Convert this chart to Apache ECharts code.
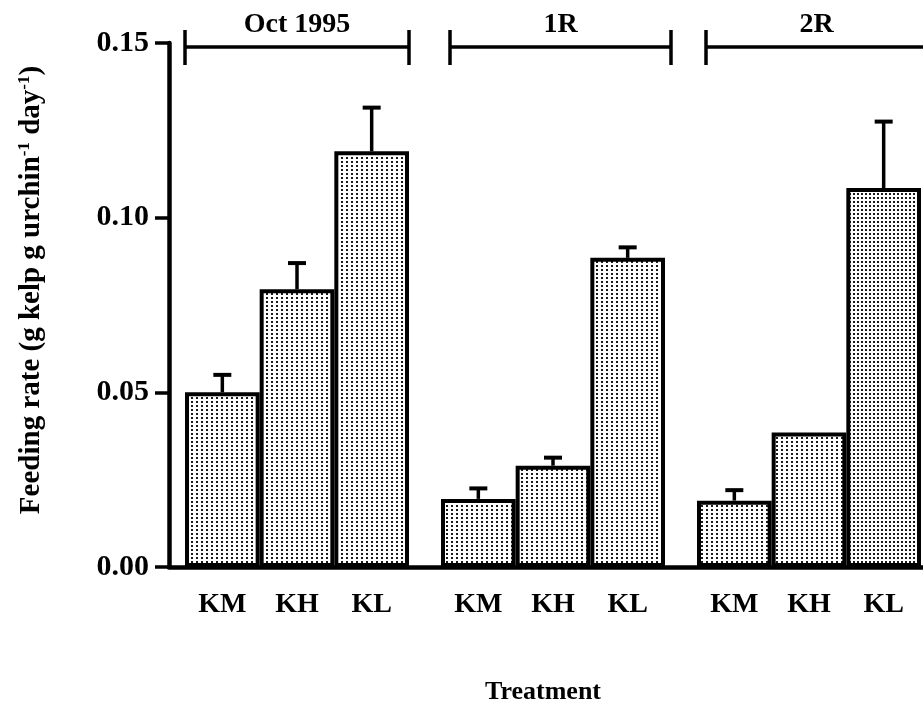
<!DOCTYPE html>
<html>
<head>
<meta charset="utf-8">
<script src="https://cdn.jsdelivr.net/npm/echarts@6/dist/echarts.min.js"></script>
<style>
  html, body { margin: 0; padding: 0; background: #fff; overflow: hidden; }
  #chart { width: 923px; height: 710px; }
</style>
</head>
<body>
<div id="chart"></div>
<script>
// Sampling periods and urchin treatments
const periods = ['Oct 1995', '1R', '2R'];
const treatments = ['KM', 'KH', 'KL'];

// Mean feeding rate per treatment, one value per period
const rateKM = [0.050, 0.0195, 0.019];
const rateKH = [0.0795, 0.029, 0.0385];
const rateKL = [0.119, 0.0885, 0.1085];

// Standard errors (upper whisker only)
const seKM = [0.005, 0.003, 0.003];
const seKH = [0.0075, 0.0023, 0];
const seKL = [0.0125, 0.003, 0.019];

const yTicks = [0, 0.05, 0.10, 0.15];

const rates = [rateKM, rateKH, rateKL];
const errors = [seKM, seKH, seKL];

const FONT = '"Liberation Serif", "Times New Roman", serif';
const GAP = 0.125; // fraction of a period band left empty between groups

// Stippled fill used for the bars
function stipple(px, py, dot) {
  const c = document.createElement('canvas');
  c.width = px; c.height = py;
  const g = c.getContext('2d');
  g.fillStyle = '#ffffff';
  g.fillRect(0, 0, px, py);
  g.fillStyle = '#1a1a1a';
  g.fillRect(1, 1, dot, dot);
  return { image: c, repeat: 'repeat' };
}
const fillLight = stipple(5, 4, 2);
const fillDense = stipple(4, 4, 2);

const chart = echarts.init(document.getElementById('chart'), null, { renderer: 'canvas' });

function barGeom(api, periodIdx, treatIdx, value) {
  const band = api.size([1, 0])[0];
  const bw = band * (1 - GAP) / 3;
  const c = api.coord([periodIdx, value]);
  const x = c[0] + (treatIdx - 1) * bw;
  return { x: x, y: c[1], bw: bw };
}

const barSeries = treatments.map((t, ti) => ({
  name: t,
  type: 'bar',
  barGap: '0%',
  barCategoryGap: (GAP * 100) + '%',
  data: rates[ti].map((v, pi) => ({
    value: v,
    itemStyle: (ti === 2 && pi === 2) ? { color: fillDense } : undefined
  })),
  itemStyle: { color: fillLight, borderColor: '#000', borderWidth: 4 },
  label: {
    show: true,
    position: 'bottom',
    distance: 24,
    formatter: t,
    color: '#000',
    fontFamily: FONT,
    fontWeight: 'bold',
    fontSize: 28
  },
  z: 2
}));

// Whiskers drawn above each bar
const errData = [];
for (let ti = 0; ti < 3; ti++) {
  for (let pi = 0; pi < periods.length; pi++) {
    errData.push([pi, rates[ti][pi], rates[ti][pi] + errors[ti][pi], ti]);
  }
}
const errSeries = {
  type: 'custom',
  data: errData,
  z: 3,
  renderItem: function (params, api) {
    const pi = api.value(0), ti = api.value(3);
    const lo = barGeom(api, pi, ti, api.value(1));
    const hi = barGeom(api, pi, ti, api.value(2));
    if (hi.y >= lo.y - 1) return null;
    const style = { stroke: '#000', lineWidth: 3.5 };
    return {
      type: 'group',
      children: [
        { type: 'line', shape: { x1: lo.x, y1: lo.y, x2: lo.x, y2: hi.y }, style: style },
        { type: 'line', shape: { x1: lo.x - 9, y1: hi.y, x2: lo.x + 9, y2: hi.y }, style: { stroke: '#000', lineWidth: 4 } }
      ]
    };
  }
};

// Period brackets along the top
const bracketSeries = {
  type: 'custom',
  data: periods.map((p, i) => [i, yTicks[yTicks.length - 1]]),
  z: 3,
  clip: false,
  renderItem: function (params, api) {
    const pi = api.value(0);
    const band = api.size([1, 0])[0];
    const c = api.coord([pi, api.value(1)]);
    const half = band * (1 - GAP) / 2;
    const x1 = c[0] - half + (pi > 0 ? 9 : 0), x2 = c[0] + half + (pi > 0 ? 6 : 0);
    const y = c[1] + 4;
    const style = { stroke: '#000', lineWidth: 3.5 };
    return {
      type: 'group',
      children: [
        { type: 'line', shape: { x1: x1, y1: y, x2: x2, y2: y }, style: style },
        { type: 'line', shape: { x1: x1, y1: y - 17, x2: x1, y2: y + 18 }, style: style },
        { type: 'line', shape: { x1: x2, y1: y - 17, x2: x2, y2: y + 18 }, style: style },
        {
          type: 'text',
          style: {
            text: periods[pi],
            x: (x1 + x2) / 2, y: y - 8,
            align: 'center', verticalAlign: 'bottom',
            fill: '#000',
            font: 'bold 28px ' + FONT
          }
        }
      ]
    };
  }
};

chart.setOption({
  animation: false,
  backgroundColor: '#fff',
  grid: { left: 169, width: 768, top: 43, height: 524, containLabel: false, outerBoundsMode: 'none' },
  xAxis: {
    type: 'category',
    data: periods,
    boundaryGap: true,
    axisLine: { show: true, lineStyle: { color: '#000', width: 4.5 } },
    axisTick: { show: false },
    axisLabel: { show: false },
    name: 'Treatment',
    nameLocation: 'middle',
    nameGap: 112,
    nameTextStyle: {
      color: '#000', fontFamily: FONT, fontWeight: 'bold', fontSize: 26,
      padding: [0, 20, 0, 0]
    }
  },
  yAxis: {
    type: 'value',
    min: yTicks[0],
    max: yTicks[yTicks.length - 1],
    interval: 0.05,
    splitLine: { show: false },
    axisLine: { show: true, lineStyle: { color: '#000', width: 4.5 } },
    axisTick: { show: true, length: 14, lineStyle: { color: '#000', width: 3.5 } },
    axisLabel: {
      color: '#000', fontFamily: FONT, fontWeight: 'bold', fontSize: 30,
      margin: 20,
      formatter: v => v.toFixed(2)
    },
    name: 'Feeding rate (g kelp g urchin{sup|-1} day{sup|-1})',
    nameLocation: 'middle',
    nameRotate: 90,
    nameGap: 122,
    nameTextStyle: {
      color: '#000', fontFamily: FONT, fontWeight: 'bold', fontSize: 29,
      padding: [0, 0, 0, 30],
      rich: {
        sup: {
          fontFamily: FONT, fontWeight: 'bold', fontSize: 17,
          color: '#000', verticalAlign: 'top', padding: [0, 0, 14, 0]
        }
      }
    }
  },
  series: barSeries.concat([errSeries, bracketSeries])
});
</script>
</body>
</html>
